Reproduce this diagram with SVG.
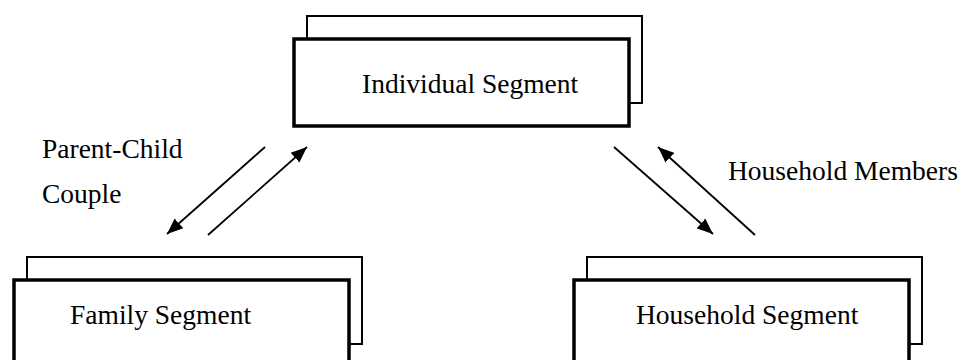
<svg xmlns="http://www.w3.org/2000/svg" width="963" height="360" viewBox="0 0 963 360">
  <style>
    .back { fill: #fff; stroke: #000; stroke-width: 2; }
    .front { fill: #fff; stroke: #000; stroke-width: 3.5; }
    .t { font-family: "Liberation Serif", "Times New Roman", serif; font-size: 27.5px; fill: #000; }
    .conn { stroke: #000; stroke-width: 1.8; fill: none; }
  </style>
  <defs>
    <marker id="ah" markerUnits="userSpaceOnUse" markerWidth="18" markerHeight="14" refX="16" refY="7" orient="auto">
      <path d="M0,0.5 L16,7 L0,13.5 z" fill="#000"/>
    </marker>
  </defs>

  <g id="individual">
    <rect class="back" x="307" y="16" width="335" height="87"/>
    <rect class="front" x="294" y="39" width="335" height="87"/>
    <text class="t" x="362" y="93">Individual Segment</text>
  </g>

  <g id="family">
    <rect class="back" x="27" y="257" width="335" height="87"/>
    <rect class="front" x="14" y="280" width="335" height="87"/>
    <text class="t" x="70" y="324">Family Segment</text>
  </g>

  <g id="household">
    <rect class="back" x="587" y="257" width="335" height="87"/>
    <rect class="front" x="574" y="280" width="335" height="87"/>
    <text class="t" x="636" y="324">Household Segment</text>
  </g>

  <g id="connectors">
    <line class="conn" x1="265" y1="147" x2="167" y2="234" marker-end="url(#ah)"/>
    <line class="conn" x1="208" y1="235" x2="307" y2="147" marker-end="url(#ah)"/>
    <line class="conn" x1="614" y1="147" x2="713" y2="234" marker-end="url(#ah)"/>
    <line class="conn" x1="755" y1="235" x2="658" y2="147" marker-end="url(#ah)"/>
  </g>

  <g id="labels">
    <text class="t" x="42" y="158">Parent-Child</text>
    <text class="t" x="42" y="203">Couple</text>
    <text class="t" x="728" y="180">Household Members</text>
  </g>
</svg>
